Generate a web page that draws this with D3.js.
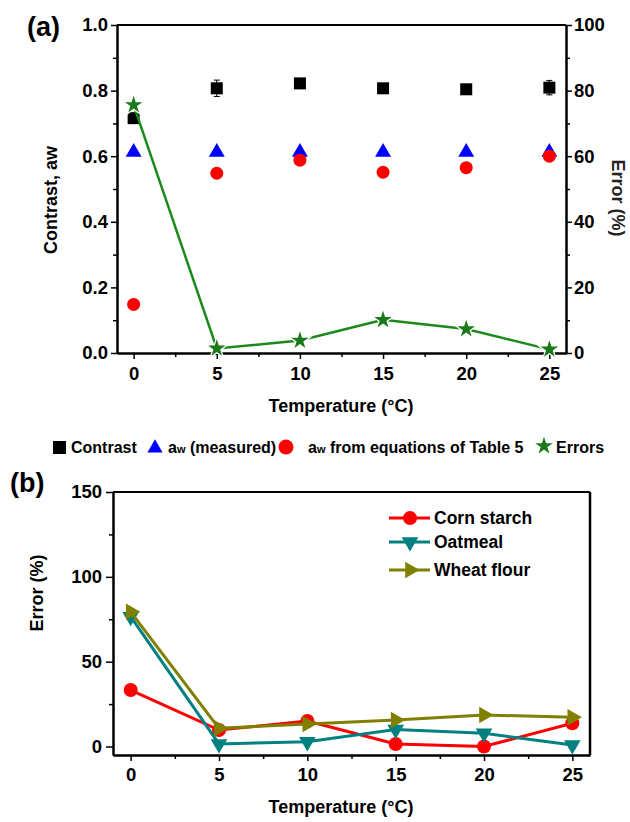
<!DOCTYPE html>
<html>
<head>
<meta charset="utf-8">
<script src="https://cdn.jsdelivr.net/npm/d3@7"></script>
<style>
  body { margin: 0; background: #fff; }
  svg { font-family: "Liberation Sans", Arial, sans-serif; font-weight: bold; }
</style>
</head>
<body>
<script>
// values
const temps = [0, 5, 10, 15, 20, 25];
const contrast = [0.716, 0.807, 0.822, 0.807, 0.804, 0.809];
const contrastErr = [0.006, 0.025, 0.006, 0.006, 0.006, 0.022];
const awMeasured = [0.612, 0.612, 0.612, 0.612, 0.612, 0.612];
const awEquations = [0.148, 0.548, 0.588, 0.551, 0.565, 0.600];
const errorsA = [75.6, 1.4, 3.8, 10.1, 7.3, 1.1];

const cornStarch = [33.3, 9.7, 15.0, 1.5, 0.0, 13.7];
const oatmeal = [76.5, 1.5, 2.8, 10.0, 7.8, 0.9];
const wheatFlour = [79.4, 10.7, 13.3, 15.6, 18.6, 17.2];

const xTicks = [0, 5, 10, 15, 20, 25];
const xMinor = [2.5, 7.5, 12.5, 17.5, 22.5];

const width = 630, height = 822;
const svg = d3.select("body").append("svg")
  .attr("width", width).attr("height", height);

function styleAxis(g) {
  g.select(".domain").attr("stroke", "#000").attr("stroke-width", 2);
  g.selectAll(".tick line").attr("stroke", "#000").attr("stroke-width", 1.5);
  g.selectAll(".tick text").attr("fill", "#000").style("font-size", "18.5px").style("font-weight", "bold");
}

// ---------- panel (a) ----------
const xa = d3.scaleLinear().domain([-1, 26]).range([117, 566]);
const ya = d3.scaleLinear().domain([0, 1]).range([353, 25]);
const yaR = d3.scaleLinear().domain([0, 100]).range([353, 25]);

const pa = svg.append("g");

// frame top
pa.append("line").attr("x1", xa.range()[0]).attr("x2", xa.range()[1])
  .attr("y1", 25).attr("y2", 25).attr("stroke", "#000").attr("stroke-width", 2);

pa.append("g").attr("transform", "translate(0,353)")
  .call(d3.axisBottom(xa).tickValues(xMinor).tickSize(4).tickFormat("").tickSizeOuter(0))
  .call(styleAxis);
pa.append("g").attr("transform", "translate(0,353)")
  .call(d3.axisBottom(xa).tickValues(xTicks).tickSize(6).tickPadding(8).tickSizeOuter(0))
  .call(styleAxis);

pa.append("g").attr("transform", "translate(117,0)")
  .call(d3.axisLeft(ya).tickValues([0.1, 0.3, 0.5, 0.7, 0.9]).tickSize(4).tickFormat("").tickSizeOuter(0))
  .call(styleAxis);
pa.append("g").attr("transform", "translate(117,0)")
  .call(d3.axisLeft(ya).tickValues([0, 0.2, 0.4, 0.6, 0.8, 1.0]).tickSize(6).tickPadding(3)
    .tickFormat(d3.format(".1f")).tickSizeOuter(0))
  .call(styleAxis);

pa.append("g").attr("transform", "translate(566,0)")
  .call(d3.axisRight(yaR).tickValues([10, 30, 50, 70, 90]).tickSize(4).tickFormat("").tickSizeOuter(0))
  .call(styleAxis);
pa.append("g").attr("transform", "translate(566,0)")
  .call(d3.axisRight(yaR).tickValues([0, 20, 40, 60, 80, 100]).tickSize(6).tickPadding(2).tickSizeOuter(0))
  .call(styleAxis);

// axis titles
pa.append("text").attr("transform", "translate(57,200) rotate(-90)")
  .attr("text-anchor", "middle").style("font-size", "18px").text("Contrast, aw");
pa.append("text").attr("transform", "translate(612,198) rotate(90)")
  .attr("text-anchor", "middle").style("font-size", "18px").attr("fill", "#222").text("Error (%)");
pa.append("text").attr("x", 341).attr("y", 412)
  .attr("text-anchor", "middle").style("font-size", "18px").text("Temperature (°C)");
pa.append("text").attr("x", 27).attr("y", 36).style("font-size", "27px").text("(a)");

const ptsA = temps.map((t, i) => ({ t, c: contrast[i], e: contrastErr[i], m: awMeasured[i], q: awEquations[i], r: errorsA[i] }));

// error bars on contrast
const eb = pa.append("g").attr("stroke", "#000").attr("stroke-width", 1);
ptsA.forEach(d => {
  eb.append("line").attr("x1", xa(d.t)).attr("x2", xa(d.t)).attr("y1", ya(d.c - d.e)).attr("y2", ya(d.c + d.e));
  [d.c - d.e, d.c + d.e].forEach(v => eb.append("line")
    .attr("x1", xa(d.t) - 3).attr("x2", xa(d.t) + 3).attr("y1", ya(v)).attr("y2", ya(v)));
});

pa.append("g").selectAll("rect").data(ptsA).join("rect")
  .attr("x", d => xa(d.t) - 6).attr("y", d => ya(d.c) - 6)
  .attr("width", 12).attr("height", 12).attr("fill", "#000");

const triUp = d3.symbol().type(d3.symbolTriangle).size(110);
pa.append("g").selectAll("path").data(ptsA).join("path")
  .attr("d", triUp).attr("transform", d => `translate(${xa(d.t)},${ya(d.m)})`)
  .attr("fill", "#0000ff");

pa.append("g").selectAll("circle").data(ptsA).join("circle")
  .attr("cx", d => xa(d.t)).attr("cy", d => ya(d.q)).attr("r", 6.5).attr("fill", "#ff0000");

pa.append("path").datum(ptsA)
  .attr("d", d3.line().x(d => xa(d.t)).y(d => yaR(d.r)))
  .attr("fill", "none").attr("stroke", "#1a8a1a").attr("stroke-width", 2.5);

const star = d3.symbol().type(d3.symbolStar).size(95);
pa.append("g").selectAll("path").data(ptsA).join("path")
  .attr("d", star).attr("transform", d => `translate(${xa(d.t)},${yaR(d.r)})`)
  .attr("fill", "#1a7a1a").attr("stroke", "#fff").attr("stroke-width", 2.5).attr("paint-order", "stroke");

// legend under panel (a)
const lg = svg.append("g").style("font-size", "16px");
lg.append("rect").attr("x", 53).attr("y", 441).attr("width", 13).attr("height", 13).attr("fill", "#000");
lg.append("text").attr("x", 71).attr("y", 453).text("Contrast");
lg.append("path").attr("d", d3.symbol().type(d3.symbolTriangle).size(100))
  .attr("transform", "translate(155,448)").attr("fill", "#0000ff");
const t2 = lg.append("text").attr("x", 168).attr("y", 453);
t2.append("tspan").text("a");
t2.append("tspan").style("font-size", "11px").text("w");
t2.append("tspan").text(" (measured)");
lg.append("circle").attr("cx", 286).attr("cy", 447).attr("r", 7.5).attr("fill", "#ff0000");
const t3 = lg.append("text").attr("x", 308).attr("y", 453);
t3.append("tspan").text("a");
t3.append("tspan").style("font-size", "11px").text("w");
t3.append("tspan").text(" from equations of Table 5");
lg.append("path").attr("d", star).attr("transform", "translate(544,446)").attr("fill", "#1a7a1a");
lg.append("text").attr("x", 556).attr("y", 453).text("Errors");

// ---------- panel (b) ----------
const xb = d3.scaleLinear().domain([-1, 26]).range([113, 590]);
const yb = d3.scaleLinear().domain([-5, 150]).range([755, 492]);
const pb = svg.append("g");

pb.append("line").attr("x1", 113).attr("x2", 590).attr("y1", 492).attr("y2", 492)
  .attr("stroke", "#000").attr("stroke-width", 2);
pb.append("line").attr("x1", 590).attr("x2", 590).attr("y1", 492).attr("y2", 755)
  .attr("stroke", "#000").attr("stroke-width", 2.5);

pb.append("g").attr("transform", "translate(0,755)")
  .call(d3.axisBottom(xb).tickValues(xMinor).tickSize(4).tickFormat("").tickSizeOuter(0))
  .call(styleAxis);
pb.append("g").attr("transform", "translate(0,755)")
  .call(d3.axisBottom(xb).tickValues(xTicks).tickSize(6).tickPadding(7).tickSizeOuter(0))
  .call(styleAxis);
pb.append("g").attr("transform", "translate(113,0)")
  .call(d3.axisLeft(yb).tickValues([25, 75, 125]).tickSize(4).tickFormat("").tickSizeOuter(0))
  .call(styleAxis);
pb.append("g").attr("transform", "translate(113,0)")
  .call(d3.axisLeft(yb).tickValues([0, 50, 100, 150]).tickSize(7).tickPadding(4).tickSizeOuter(0))
  .call(styleAxis);

pb.append("text").attr("transform", "translate(43,593) rotate(-90)")
  .attr("text-anchor", "middle").style("font-size", "18px").text("Error (%)");
pb.append("text").attr("x", 341).attr("y", 813)
  .attr("text-anchor", "middle").style("font-size", "18px").text("Temperature (°C)");
pb.append("text").attr("x", 10).attr("y", 492).style("font-size", "27px").text("(b)");

const seriesB = [
  { name: "Corn starch", values: cornStarch, color: "#ff0000", sym: "circle" },
  { name: "Oatmeal", values: oatmeal, color: "#008080", sym: "down" },
  { name: "Wheat flour", values: wheatFlour, color: "#808000", sym: "right" }
];

function marker(sel, sym, color) {
  if (sym === "circle") {
    sel.append("circle").attr("r", 7).attr("fill", color);
  } else {
    const tri = d3.symbol().type(d3.symbolTriangle).size(120)();
    sel.append("path").attr("d", tri).attr("fill", color)
      .attr("transform", sym === "down" ? "rotate(180)" : "rotate(90)");
  }
}

seriesB.forEach(s => {
  const pts = temps.map((t, i) => ({ t, v: s.values[i] }));
  const g = pb.append("g");
  g.append("path").datum(pts)
    .attr("d", d3.line().x(d => xb(d.t)).y(d => yb(d.v)))
    .attr("fill", "none").attr("stroke", s.color).attr("stroke-width", 3);
  pts.forEach(d => {
    const m = g.append("g").attr("transform", `translate(${xb(d.t)},${yb(d.v)})`);
    marker(m, s.sym, s.color);
  });
});

// legend in panel (b)
const lgb = pb.append("g").style("font-size", "17.5px");
seriesB.forEach((s, i) => {
  const y = [518, 542, 570][i];
  lgb.append("line").attr("x1", 389).attr("x2", 430).attr("y1", y).attr("y2", y)
    .attr("stroke", s.color).attr("stroke-width", 3);
  const m = lgb.append("g").attr("transform", `translate(410,${y})`);
  marker(m, s.sym, s.color);
  lgb.append("text").attr("x", 434).attr("y", y + 6).text(s.name);
});
</script>
</body>
</html>
